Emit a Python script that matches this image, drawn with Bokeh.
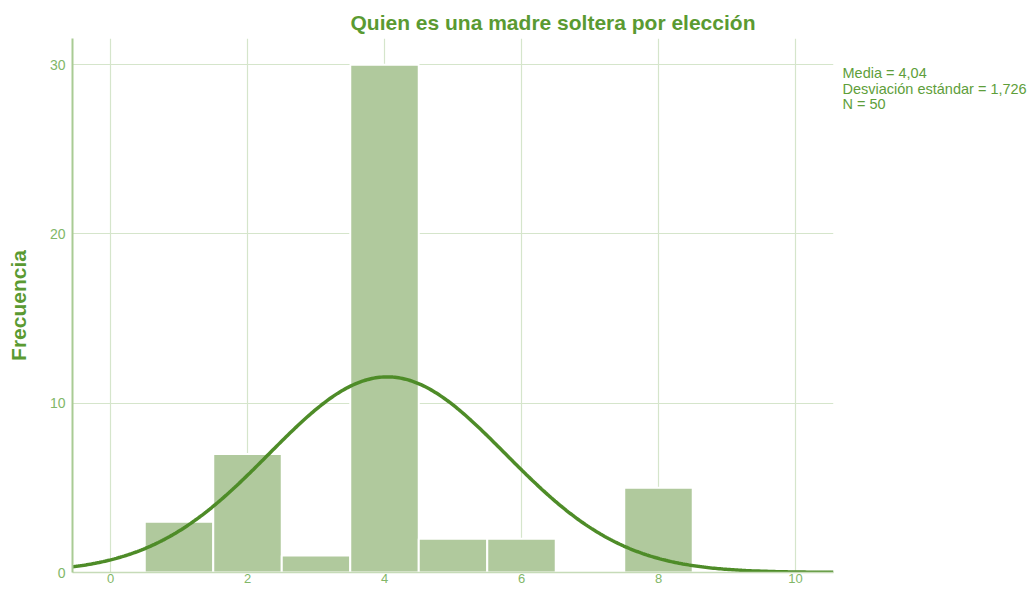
import numpy as np
from bokeh.plotting import figure
from bokeh.layouts import row
from bokeh.models import Range1d, FixedTicker
from bokeh.core.properties import value
from bokeh.embed import file_html
from bokeh.resources import INLINE

# ---- data ----
values = [1, 2, 3, 4, 5, 6, 8]
counts = [3, 7, 1, 30, 2, 2, 5]
MEAN = 4.04
SD = 1.726
N = 50
x_ticks = [0, 2, 4, 6, 8, 10]
y_ticks = [0, 10, 20, 30]
title_text = "Quien es una madre soltera por elección"
y_label = "Frecuencia"
stats_lines = ["Media = 4,04", "Desviación estándar = 1,726", "N = 50"]

BAR = "#b0c99d"
CURVE = "#4e8c28"
TITLE = "#5a9a32"
GRID = "#d5e5cb"
TICKTXT = "#82b768"
FONT = "Liberation Sans"

X0, X1 = -0.555, 10.555
Y0, Y1 = 0, 31.55

p = figure(width=838, height=590, output_backend="svg", toolbar_location=None,
           x_range=Range1d(X0, X1), y_range=Range1d(Y0, Y1),
           min_border_left=72, min_border_right=5, min_border_top=38,
           min_border_bottom=18)
p.outline_line_color = None
p.background_fill_color = "white"
p.border_fill_color = "white"

# title
p.title.text = title_text
p.title.align = "left"
p.title.offset = 278
p.title.text_font = FONT
p.title.text_font_style = "bold"
p.title.text_font_size = "21px"
p.title.text_color = TITLE
p.title.standoff = 10

# grid
p.xgrid.ticker = FixedTicker(ticks=x_ticks)
p.ygrid.ticker = FixedTicker(ticks=y_ticks)
p.grid.grid_line_color = GRID
p.grid.grid_line_width = 1.2

# axes
p.xaxis.ticker = FixedTicker(ticks=x_ticks)
p.yaxis.ticker = FixedTicker(ticks=y_ticks)
for ax in (p.xaxis, p.yaxis):
    ax.major_tick_line_color = None
    ax.minor_tick_line_color = None
    ax.major_tick_out = 0
    ax.major_tick_in = 0
    ax.minor_tick_out = 0
    ax.major_label_text_color = TICKTXT
    ax.major_label_text_font = FONT
    ax.major_label_text_font_size = "14px"
p.xaxis.major_label_text_font_size = "13px"
p.xaxis.axis_line_color = "#c6dbb8"
p.xaxis.axis_line_width = 1.5
p.xaxis.major_label_standoff = 1
p.yaxis.axis_line_color = "#a9cb94"
p.yaxis.axis_line_width = 2
p.yaxis.major_label_standoff = 7
p.yaxis.axis_label = y_label
p.yaxis.axis_label_text_font = FONT
p.yaxis.axis_label_text_font_style = "bold"
p.yaxis.axis_label_text_font_size = "21px"
p.yaxis.axis_label_text_color = TITLE
p.yaxis.axis_label_standoff = 17

# bars
left = [v - 0.5 for v in values]
right = [v + 0.5 for v in values]
p.quad(left=left, right=right, bottom=0, top=counts, fill_color=BAR,
       line_color="white", line_width=2)

# normal curve from stated mean / sd
xs = np.linspace(X0, X1, 400)
ys = N * 1.0 * np.exp(-0.5 * ((xs - MEAN) / SD) ** 2) / (SD * np.sqrt(2 * np.pi))
p.line(xs, ys, line_color=CURVE, line_width=3.5)

# side panel with the statistics text; its frame is aligned with the main
# plot frame (page rows 38..572), so the y range uses page-like coordinates
W2 = 193
p2 = figure(width=W2, height=590, output_backend="svg", toolbar_location=None,
            x_range=Range1d(0, W2), y_range=Range1d(572, 38),
            x_axis_location=None, y_axis_location=None, min_border=0)
p2.title.visible = False
p2.grid.visible = False
p2.outline_line_color = None
p2.background_fill_color = "white"
p2.border_fill_color = "white"
p2.text(x=[4, 4, 4], y=[72, 88, 103.5], text=stats_lines,
        text_font=value(FONT), text_font_size="14.5px", text_color="#5e9e3a",
        text_align="left", text_baseline="middle")

layout = row(p, p2, spacing=0)
open("out.html", "w").write(file_html(layout, INLINE))
